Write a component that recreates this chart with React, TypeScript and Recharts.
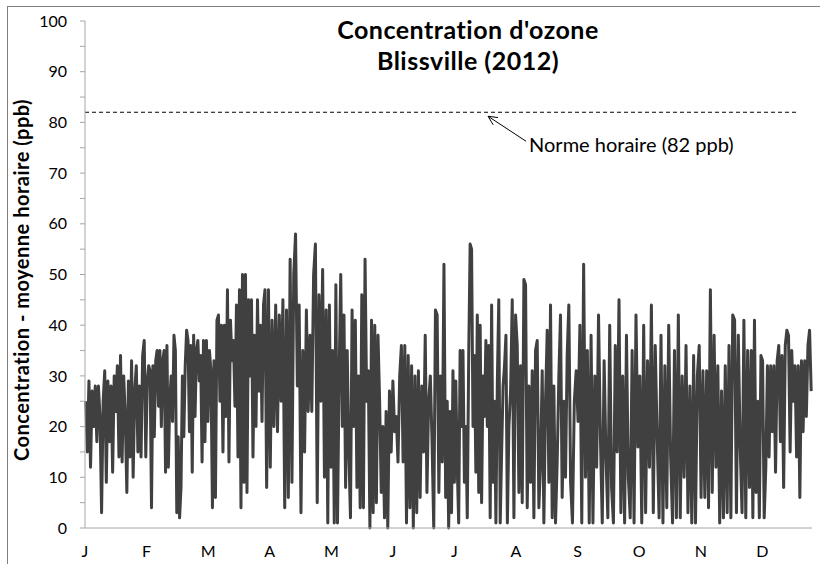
import React from "react";
import { LineChart, Line, XAxis, YAxis, ReferenceLine, ReferenceDot } from "recharts";

// hourly ozone (ppb), traced peak / trough off the original plot, one list per month
const jan = [25, 15, 29, 12, 27, 20, 28, 17, 28, 22, 3, 25, 31, 9, 29, 17, 28, 11, 30, 23, 32, 14, 34, 13, 30, 22, 7, 29, 14, 33, 10, 27, 32, 15, 28, 14, 34, 37, 14];
const feb = [29, 32, 31, 4, 32, 18, 33, 35, 24, 35, 20, 33, 35, 11, 36, 12, 25, 30, 21, 38, 35, 3, 18, 2, 8, 30, 18, 32, 39, 37, 19, 36, 11, 38, 22, 35, 37, 29, 34, 13, 37];
const mar = [17, 37, 21, 35, 31, 4, 33, 6, 41, 42, 25, 40, 15, 40, 22, 47, 13, 41, 33, 37, 24, 44, 14, 47, 4, 50, 9, 50, 7, 45, 30, 45, 14, 38, 20, 45, 27, 40, 21, 44, 47];
const apr = [8, 47, 12, 41, 20, 44, 19, 42, 25, 45, 4, 43, 6, 53, 9, 50, 58, 28, 44, 3, 35, 15, 43, 23, 38, 23, 50, 56, 5, 46, 25, 51, 10];
const may = [43, 1, 44, 12, 35, 1, 48, 1, 30, 50, 20, 42, 8, 35, 15, 2, 43, 20, 41, 8, 30, 4, 46, 4, 53, 25, 31, 0, 41, 3, 40, 5, 38, 25, 7, 20, 2, 23];
const jun = [0, 27, 15, 29, 19, 22, 13, 30, 36, 13, 36, 1, 34, 4, 32, 0, 30, 3, 31, 6, 28, 15, 38, 7, 25, 30, 17, 0, 43, 42, 7, 30, 13, 52, 6];
const jul = [25, 0, 23, 3, 31, 9, 29, 12, 1, 35, 20, 35, 9, 20, 2, 34, 56, 55, 20, 34, 11, 42, 7, 40, 5, 30, 22, 37, 20, 36, 2, 44, 9, 25, 1, 29, 45, 1, 15, 28, 32, 38, 1];
const aug = [20, 27, 45, 2, 42, 36, 7, 32, 5, 49, 48, 4, 28, 9, 31, 2, 35, 37, 4, 13, 31, 1, 25, 39, 9, 44, 2, 28, 1, 13, 30, 42, 6, 25, 10, 34, 44];
const sep = [9, 1, 25, 31, 21, 40, 1, 52, 10, 35, 1, 38, 1, 30, 12, 42, 18, 1, 33, 14, 2, 40, 8, 1, 36, 15, 45, 3, 30, 1, 38, 10];
const oct = [2, 35, 1, 42, 16, 30, 1, 40, 3, 33, 12, 44, 3, 36, 18, 2, 38, 1, 32, 4, 40, 14, 1, 35, 2, 42, 2, 30, 10, 36, 3, 28];
const nov = [1, 34, 1, 30, 36, 6, 31, 6, 31, 4, 47, 7, 38, 12, 32, 1, 27, 2, 32, 3, 36, 2, 42, 41, 3, 38, 16, 3, 41, 2, 35, 8];
const dec = [35, 2, 41, 7, 25, 2, 34, 33, 2, 12, 32, 14, 32, 19, 32, 11, 33, 36, 17, 34, 8, 36, 39, 38, 15, 35, 25, 32, 14, 32, 6, 33, 19, 33, 22, 36, 39, 27];

const monthLetters = ["J", "F", "M", "A", "M", "J", "J", "A", "S", "O", "N", "D"];
const monthHours = [744, 696, 744, 720, 744, 720, 744, 744, 720, 744, 720, 744]; // 2012 is a leap year
const yTicks = [0, 5, 10, 15, 20, 25, 30, 35, 40, 45, 50, 55, 60, 65, 70, 75, 80, 85, 90, 95, 100];

const NORM = 82; // ppb, hourly standard
const NORM_END = 8600; // the dashed line stops a little short of the year end
const NOTE_AT = 4870; // hour where the annotation arrow points
const LABEL_STEP = 744; // Excel shows a category label every 744 hours

const months = [jan, feb, mar, apr, may, jun, jul, aug, sep, oct, nov, dec];
const monthStarts: number[] = [];
const data: { h: number; v: number }[] = [];
let acc = 0;
months.forEach((vals, m) => {
  monthStarts.push(acc);
  vals.forEach((v, i) => {
    data.push({ h: acc + ((i + 0.5) * monthHours[m]) / vals.length, v });
  });
  acc += monthHours[m];
});
const TOTAL = acc;
const xTicks = monthLetters.map((_, i) => i * LABEL_STEP);

const monthOf = (h: number) => {
  let m = 0;
  while (m < 11 && monthStarts[m + 1] <= h) m++;
  return monthLetters[m];
};

const NormNote = (props: any) => {
  const { cx, cy } = props;
  if (cx == null || cy == null) return null;
  const tx = cx, ty = cy + 4;
  const ex = cx + 38, ey = cy + 29;
  const ang = Math.atan2(ey - ty, ex - tx);
  const wing = 10;
  const w1 = [tx + wing * Math.cos(ang - 0.45), ty + wing * Math.sin(ang - 0.45)];
  const w2 = [tx + wing * Math.cos(ang + 0.45), ty + wing * Math.sin(ang + 0.45)];
  return (
    <g>
      <line x1={ex} y1={ey} x2={tx} y2={ty} stroke="#000" strokeWidth={1} />
      <polyline points={`${w1[0]},${w1[1]} ${tx},${ty} ${w2[0]},${w2[1]}`} fill="none" stroke="#000" strokeWidth={1} />
      <text x={ex + 3} y={cy + 40} fontSize={20} fontFamily="Lato" fill="#000">
        Norme horaire (82 ppb)
      </text>
    </g>
  );
};

const axisGrey = "#a6a6a6";

export default function App() {
  return (
    <div
      style={{
        position: "absolute",
        left: 0,
        top: 0,
        width: 820,
        height: 564,
        overflow: "hidden",
        background: "#fff",
        fontFamily: "Lato, sans-serif",
        fontVariantLigatures: "none",
      }}
    >
      <div
        style={{
          position: "absolute",
          left: 7,
          top: 6,
          width: 900,
          height: 900,
          border: "1px solid #7f7f7f",
        }}
      />
      <div style={{ position: "absolute", top: 0, left: 0 }}>
        <LineChart width={820} height={564} data={data} margin={{ top: 21, right: 8, bottom: 6, left: 0 }}>
          <XAxis
            dataKey="h"
            type="number"
            domain={[0, TOTAL]}
            ticks={xTicks}
            interval={0}
            tickFormatter={monthOf}
            tickLine={false}
            tickSize={0}
            tickMargin={18}
            height={30}
            axisLine={{ stroke: axisGrey }}
            tick={{ fill: "#000", fontSize: 16, fontFamily: "Lato" }}
          />
          <YAxis
            type="number"
            domain={[0, 100]}
            ticks={yTicks}
            interval={0}
            width={85}
            tickSize={5}
            tickMargin={13}
            tickFormatter={(v: number) => (v % 10 === 0 ? String(v) : "")}
            axisLine={{ stroke: axisGrey }}
            tickLine={{ stroke: axisGrey }}
            tick={{ fill: "#000", fontSize: 16, fontFamily: "Lato" }}
          />
          <ReferenceLine
            segment={[
              { x: 0, y: NORM },
              { x: NORM_END, y: NORM },
            ]}
            stroke="#000"
            strokeWidth={1}
            strokeDasharray="4 3"
          />
          <Line
            type="linear"
            dataKey="v"
            stroke="#404040"
            strokeWidth={3}
            strokeLinejoin="round"
            dot={false}
            activeDot={false}
            isAnimationActive={false}
          />
          <ReferenceDot x={NOTE_AT} y={NORM} r={0} shape={NormNote} />
        </LineChart>
      </div>
      <div
        style={{
          position: "absolute",
          left: 468,
          top: 14,
          transform: "translateX(-50%)",
          textAlign: "center",
          fontWeight: 700,
          fontSize: 25,
          letterSpacing: 0.5,
          lineHeight: "31px",
          whiteSpace: "nowrap",
          color: "#000",
        }}
      >
        <div>Concentration d'ozone</div>
        <div>Blissville (2012)</div>
      </div>
      <div
        style={{
          position: "absolute",
          left: 21,
          top: 280,
          transform: "translate(-50%, -50%) rotate(-90deg)",
          fontWeight: 700,
          fontSize: 20,
          letterSpacing: 0.5,
          whiteSpace: "nowrap",
          color: "#000",
        }}
      >
        Concentration - moyenne horaire (ppb)
      </div>
    </div>
  );
}
